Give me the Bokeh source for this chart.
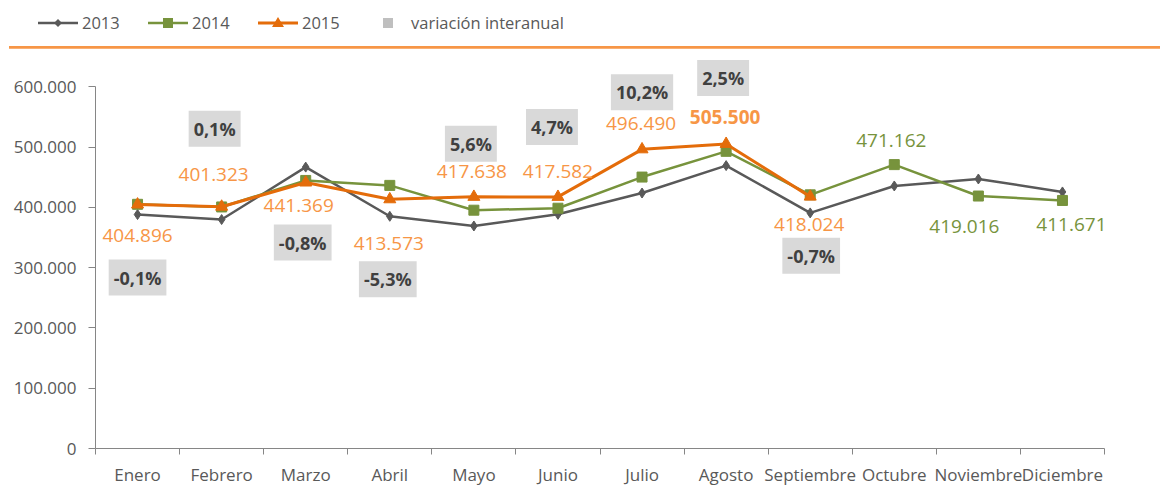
from bokeh.plotting import figure
from bokeh.layouts import column
from bokeh.models import ColumnDataSource, Range1d, FixedTicker, Div
from bokeh.core.properties import value
from bokeh.embed import file_html
from bokeh.resources import INLINE

# ---------------- data ----------------
months = ["Enero", "Febrero", "Marzo", "Abril", "Mayo", "Junio", "Julio",
          "Agosto", "Septiembre", "Octubre", "Noviembre", "Diciembre"]
years = ["2013", "2014", "2015"]
v2013 = [388300, 380000, 467000, 385400, 369300, 388700, 424000, 469500,
         391000, 435700, 447300, 425800]
v2014 = [405300, 400900, 444900, 436700, 395500, 398800, 450500, 493200,
         421000, 471162, 419016, 411671]
v2015 = [404896, 401323, 441369, 413573, 417638, 417582, 496490, 505500, 418024]
var_pct = [-0.1, 0.1, -0.8, -5.3, 5.6, 4.7, 10.2, 2.5, -0.7]
var_label = "variación interanual"
y_ticks = [0, 100000, 200000, 300000, 400000, 500000, 600000]

# label placement (screen pixel offsets, style only)
lbl15_dx = [0, -8, -7, -1, -2, 0, -1, -1, -1]
lbl15_dy = [31, -32, 23, 44, -25, -25, -26, -27, 28]
lbl15_style = ["normal"] * 7 + ["bold", "normal"]
lbl14_dx = [-3, -14, 9]
lbl14_dy = [-24, 30, 24]
pct_dx = [0, -7, -3, -2, -3, -6, 0, -3, 1]
pct_dy = [73, -78, 60, 80, -53, -70, -57, -66, 59]

C13, C14, C15 = "#595959", "#77933C", "#E46C0A"
C15L = "#F79646"
CVAR = "#BFBFBF"
FONT = "Open Sans"

def fmt_num(v):
    return f"{v:,}".replace(",", ".")

def fmt_pct(v):
    return f"{v:.1f}".replace(".", ",") + "%"

xs = [i + 0.5 for i in range(len(months))]

# ---------------- legend strip + orange rule (HTML) ----------------
swatch_marks = [
    f'<polygon points="20,8 24,12 20,16 16,12" fill="{C13}"/>',
    f'<rect x="15" y="7" width="10" height="10" fill="{C14}"/>',
    f'<polygon points="20,6 26,16 14,16" fill="{C15}"/>',
]
swatch_lines = [(C13, 2.5), (C14, 2.5), (C15, 3)]
item_left = [38, 148, 258]
parts = []
for lab, mark, (col, lw), x0 in zip(years, swatch_marks, swatch_lines, item_left):
    parts.append(
        f'<svg style="position:absolute;left:{x0}px;top:11px" width="40" height="24">'
        f'<line x1="0" y1="12" x2="40" y2="12" stroke="{col}" stroke-width="{lw}"/>{mark}</svg>'
        f'<span style="position:absolute;left:{x0 + 44}px;top:11px;line-height:24px">{lab}</span>')
parts.append(f'<div style="position:absolute;left:383px;top:18px;width:10px;height:10px;'
             f'background:{CVAR}"></div>'
             f'<span style="position:absolute;left:411px;top:11px;line-height:24px">{var_label}</span>')
parts.append(f'<div style="position:absolute;left:9px;top:46px;width:1151px;height:3px;'
             f'background:{C15L}"></div>')
html = (f'<div style="position:relative;width:1160px;height:48px;font-family:\'{FONT}\';'
        f'font-size:16.5px;color:{C13};white-space:nowrap">' + "".join(parts) + '</div>')
top = Div(text=html, width=1160, height=48, styles={"margin": "0", "padding": "0"})

# ---------------- chart ----------------
p = figure(width=1160, height=442, x_range=Range1d(0, 12), y_range=Range1d(0, 650600),
           toolbar_location=None, output_backend="svg",
           min_border_left=95, min_border_right=56, min_border_top=8, min_border_bottom=42)
p.outline_line_color = None
p.xgrid.visible = False
p.ygrid.visible = False

yax = p.yaxis[0]
yax.ticker = FixedTicker(ticks=y_ticks)
yax.major_label_overrides = {t: fmt_num(t) for t in y_ticks}
yax.bounds = (0, 600000)
yax.axis_line_color = "#868686"
yax.major_tick_line_color = "#868686"
yax.major_tick_in = 0
yax.major_tick_out = 7
yax.minor_tick_line_color = None
yax.major_label_standoff = 12
yax.major_label_text_font = FONT
yax.major_label_text_font_size = "17px"
yax.major_label_text_color = C13

xax = p.xaxis[0]
xax.ticker = FixedTicker(ticks=xs, minor_ticks=list(range(len(months) + 1)))
xax.major_label_overrides = {x: m for x, m in zip(xs, months)}
xax.axis_line_color = "#868686"
xax.major_tick_line_color = None
xax.major_tick_in = 0
xax.major_tick_out = 0
xax.minor_tick_line_color = "#868686"
xax.minor_tick_in = 0
xax.minor_tick_out = 6
xax.major_label_standoff = 8
xax.major_label_text_font = FONT
xax.major_label_text_font_size = "17px"
xax.major_label_text_color = C13

# series
p.line(xs, v2013, line_color=C13, line_width=2.5)
p.scatter(xs, v2013, marker="diamond", size=10, color=C13)
p.line(xs, v2014, line_color=C14, line_width=2.5)
p.scatter(xs, v2014, marker="square", size=10, color=C14)
x15 = xs[:len(v2015)]
p.line(x15, v2015, line_color=C15, line_width=3)
p.scatter(x15, v2015, marker="triangle", size=12, color=C15)

# value labels 2015
src15 = ColumnDataSource(dict(x=x15, y=v2015, t=[fmt_num(v) for v in v2015],
                              dx=lbl15_dx, dy=lbl15_dy, st=lbl15_style))
p.text(x="x", y="y", text="t", x_offset="dx", y_offset="dy", source=src15,
       text_align="center", text_baseline="middle", text_font=value(FONT),
       text_font_size="19px", text_font_style="st", text_color=C15L)

# value labels 2014 (months without 2015 data)
n15 = len(v2015)
src14 = ColumnDataSource(dict(x=xs[n15:], y=v2014[n15:], t=[fmt_num(v) for v in v2014[n15:]],
                              dx=lbl14_dx, dy=lbl14_dy))
p.text(x="x", y="y", text="t", x_offset="dx", y_offset="dy", source=src14,
       text_align="center", text_baseline="middle", text_font=value(FONT),
       text_font_size="19px", text_color=C14)

# year-on-year variation boxes
srcp = ColumnDataSource(dict(x=x15, y=v2015, t=[fmt_pct(v) for v in var_pct],
                             dx=pct_dx, dy=pct_dy))
p.text(x="x", y="y", text="t", x_offset="dx", y_offset="dy", source=srcp,
       text_align="center", text_baseline="middle", text_font=value(FONT),
       text_font_size="18px", text_font_style="bold", text_color="#404040",
       background_fill_color="#D9D9D9", padding=(5, 6))

layout = column(top, p, spacing=0)
open("out.html", "w").write(file_html(layout, INLINE))
